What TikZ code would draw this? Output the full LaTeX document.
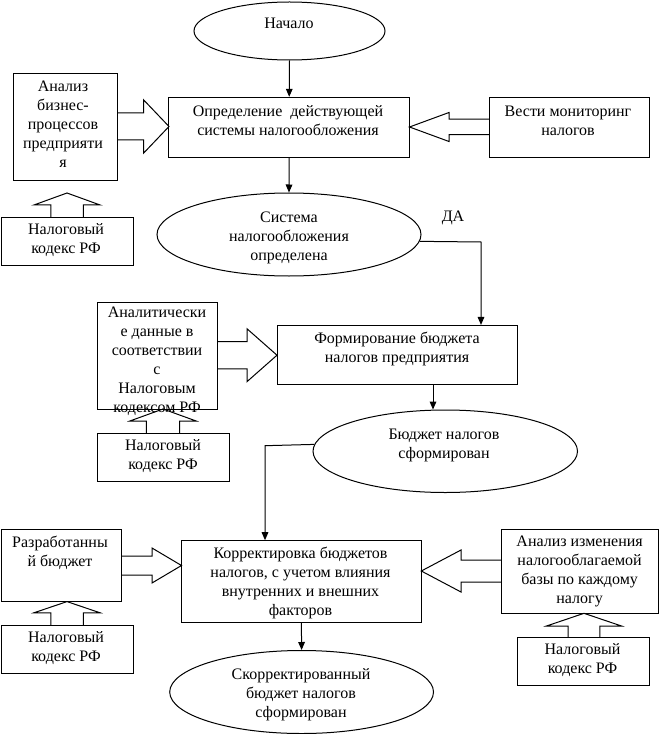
\documentclass[tikz,border=0pt]{standalone}
\usepackage{fontspec}
\setmainfont{Liberation Serif}
\usetikzlibrary{shapes.geometric,arrows.meta,calc}
\tikzset{
  bx/.style 2 args={draw, rectangle, line width=0.75pt, inner sep=0pt,
    minimum width=#1*0.75pt, minimum height=#2*0.75pt},
  el/.style 2 args={draw, ellipse, line width=0.75pt, inner sep=0pt,
    minimum width=#1*0.75pt, minimum height=#2*0.75pt},
  txt/.style={align=center, inner sep=0pt, font=\fontsize{12}{14.25}\selectfont},
  arr/.style={line width=0.75pt, -{Triangle[width=5pt,length=6pt]}},
  blk/.style={line width=0.75pt}
}
\newcommand{\hblk}[6]{\draw[blk] (#1,#4-#5) -- (#2,#4-#5) -- (#2,#4-#6) -- (#3,#4) -- (#2,#4+#6) -- (#2,#4+#5) -- (#1,#4+#5);}
\newcommand{\vblk}[6]{\draw[blk] (#4-#5,#1) -- (#4-#5,#2) -- (#4-#6,#2) -- (#4,#3) -- (#4+#6,#2) -- (#4+#5,#2) -- (#4+#5,#1);}
\begin{document}
\begin{tikzpicture}[x=0.75pt,y=-0.75pt]
\useasboundingbox (0,0) rectangle (662,734);
% ellipses
\node[el={191}{58}] (n0) at (289.5,31) {};
\node[txt] (n0t) at (289,23.4) {Начало};
\node[el={264}{83}] (S) at (289,234.5) {};
\node[txt] (St) at (289,238.4) {Система\\налогообложения\\определена};
\node[el={264.5}{82.5}] (B) at (445.25,451.25) {};
\node[txt] (Bt) at (444,445.6) {Бюджет налогов\\сформирован};
\node[el={263.8}{83}] (SK) at (301.6,692) {};
\node[txt] (SKt) at (301,694.7) {Скорректированный\\бюджет налогов\\сформирован};
% boxes
\node[bx={240.5}{60}] (b1) at (289.2,127.3) {};
\node[txt] (b1t) at (288,120.7) {Определение\ \ действующей\\системы налогообложения};
\node[bx={103.8}{107.5}] (A1) at (65.4,127.25) {};
\node[txt] (A1t) at (63,124.5) {Анализ\\бизнес-\\процессов\\предприяти\\я};
\node[bx={132}{47.3}] (N1) at (67.35,241.35) {};
\node[txt] (N1t) at (66,240.25) {Налоговый\\кодекс РФ};
\node[bx={160}{60}] (V) at (569,127.3) {};
\node[txt] (Vt) at (568,120.7) {Вести мониторинг\\налогов};
\node[bx={240.5}{59.4}] (F) at (397.25,355.1) {};
\node[txt] (Ft) at (397,349) {Формирование бюджета\\налогов предприятия};
\node[bx={119.9}{107}] (AD) at (157.45,355.5) {};
\node[txt] (ADt) at (157,361.5) {Аналитически\\е данные в\\соответствии\\с\\Налоговым\\кодексом РФ};
\node[bx={131.7}{47.8}] (N2) at (163.35,457.4) {};
\node[txt] (N2t) at (163,456.4) {Налоговый\\кодекс РФ};
\node[bx={239.8}{82}] (K) at (301.4,581.7) {};
\node[txt] (Kt) at (300.5,583.35) {Корректировка бюджетов\\налогов, с учетом влияния\\внутренних и внешних\\факторов};
\node[bx={120.3}{72.1}] (R) at (61.45,565.55) {};
\node[txt] (Rt) at (60,552.4) {Разработанны\\й бюджет};
\node[bx={132.1}{47.5}] (N3) at (67.35,649.25) {};
\node[txt] (N3t) at (66,648.4) {Налоговый\\кодекс РФ};
\node[bx={156.5}{83.8}] (AI) at (579.75,571.4) {};
\node[txt] (AIt) at (579.6,571.7) {Анализ изменения\\налогооблагаемой\\базы по каждому\\налогу};
\node[bx={131.7}{47.8}] (N4) at (583.35,661.5) {};
\node[txt] (N4t) at (582.5,660.1) {Налоговый\\кодекс РФ};
\node[txt] (da) at (453,217.7) {ДА};
% connectors
\draw[arr] (n0.south) -- (b1.north);
\draw[arr] (b1.south) -- (S.north);
\coordinate (daX) at (481,242);
\draw[arr] (S.-3.3) -- (daX) -- (daX |- F.north);
\coordinate (fbTop) at ($(F.south)+(35.75,0)$);
\draw[arr] (fbTop) -- (fbTop |- B.north);
\coordinate (bk) at (265,445.7);
\draw[arr] (B.177.6) -- (bk) -- (bk |- K.north);
\draw[arr] (K.south) -- (SK.north);
% block arrows
\hblk{117.3}{143.5}{169}{126.5}{13.5}{26.75}
\hblk{489}{449}{409.5}{127}{7.75}{14.5}
\hblk{217.4}{247}{277}{355.2}{13.55}{26.45}
\hblk{121.6}{152}{181.5}{565.5}{9.5}{17.5}
\hblk{501.5}{461}{421.3}{571}{11}{21}
\vblk{217.7}{205}{193}{67}{16.25}{33.1}
\vblk{433.5}{421}{409}{163}{16.65}{33.15}
\vblk{625.5}{612.8}{601.6}{67}{16.25}{33.1}
\vblk{637.6}{626}{613.3}{584}{15.8}{37.5}
\end{tikzpicture}
\end{document}
